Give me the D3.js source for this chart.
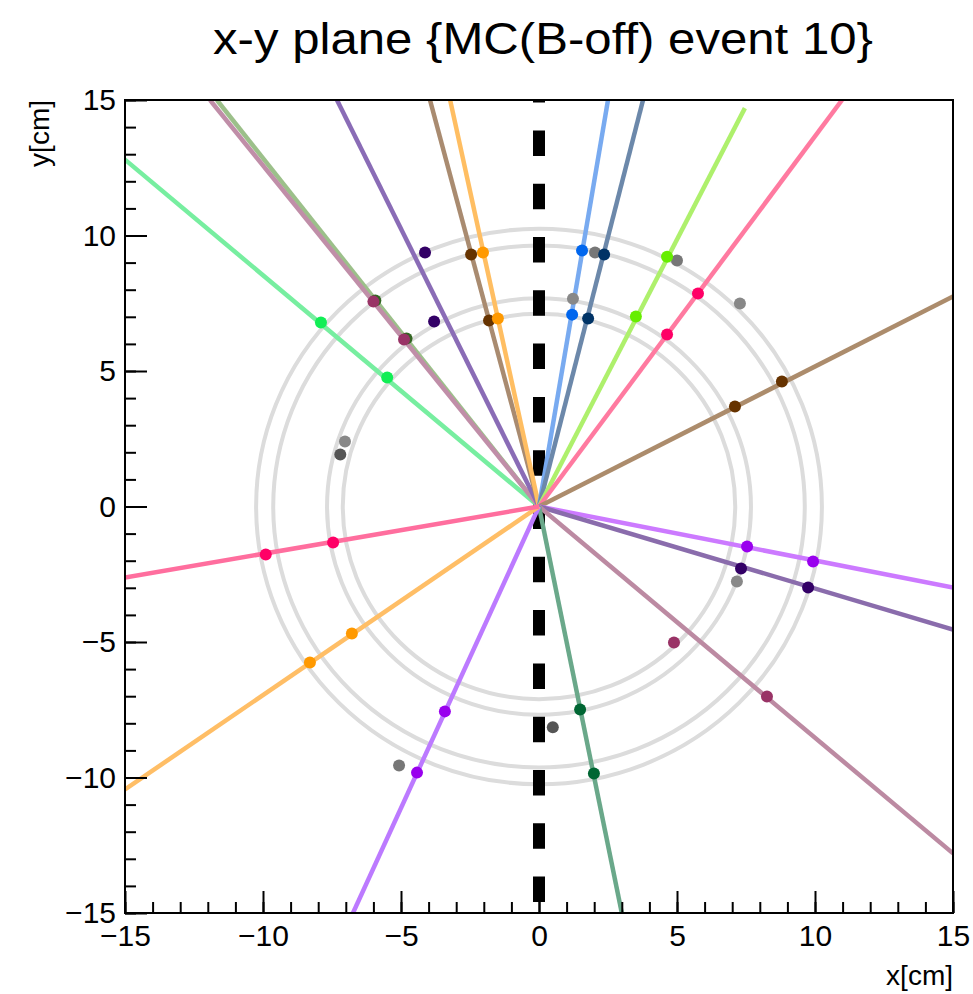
<!DOCTYPE html>
<html>
<head>
<meta charset="utf-8">
<script src="https://cdn.jsdelivr.net/npm/d3@7"></script>
<style>
body { margin: 0; background: #fff; }
text { font-family: "Liberation Sans", Arial, Helvetica, sans-serif; fill: #000; }
</style>
</head>
<body>
<div id="app"></div>
<script>
// tracks: end point where each one leaves the view (all start at the vertex), and its two hits
var trackNames = ["A", "B", "C", "D", "E", "F", "G", "H", "I", "J", "K", "L", "M", "N", "O", "P", "Q", "R"];
var trackEnds = [
    [-15, 12.8], [-11.67, 15], [-11.92, 15], [-7.32, 15], [-3.95, 15], [-3.22, 15],
    [2.5, 15], [3.77, 15], [7.46, 14.7], [10.98, 15], [15, 7.75], [15, -2.99],
    [15, -4.54], [15, -12.8], [3.0, -15], [-6.74, -15], [-15, -10.44], [-15, -2.62]
];
var trackHits = [
    [[-7.9, 6.79], [-5.5, 4.76]],
    [[-5.93, 7.6], [-4.8, 6.2]],
    [[-6.0, 7.56], [-4.89, 6.16]],
    [[-4.13, 9.37], [-3.8, 6.83]],
    [[-2.46, 9.3], [-1.81, 6.86]],
    [[-2.03, 9.37], [-1.49, 6.94]],
    [[1.56, 9.45], [1.2, 7.08]],
    [[2.36, 9.3], [1.78, 6.94]],
    [[4.64, 9.22], [3.51, 7.01]],
    [[5.76, 7.86], [4.64, 6.35]],
    [[8.8, 4.61], [7.1, 3.69]],
    [[7.54, -1.48], [9.93, -2.03]],
    [[7.32, -2.29], [9.75, -2.99]],
    [[4.89, -5.02], [8.26, -7.01]],
    [[1.49, -7.49], [1.99, -9.85]],
    [[-3.41, -7.56], [-4.42, -9.82]],
    [[-6.78, -4.69], [-8.3, -5.76]],
    [[-7.46, -1.33], [-9.9, -1.77]]
];
// hits not attached to any track
var strayHits = [
    [2.03, 9.37], [1.23, 7.67], [5.0, 9.08], [7.28, 7.49], [7.17, -2.77],
    [0.5, -8.15], [-5.07, -9.56], [-7.03, 2.4], [-7.2, 1.92]
];
var ringRadii = [7.11, 7.68, 9.63, 10.25];
var majorTicks = [-15, -10, -5, 0, 5, 10, 15];
var minorTicks = d3.range(-15, 16, 1);

var lineColors = ["#77eea0", "#9cc08a", "#c08ea8", "#8a6cb6", "#a98b70", "#ffbe62",
    "#78aaf0", "#6c88aa", "#aef06c", "#ff7aa0", "#ac8c6c", "#cc7aff",
    "#8a6cac", "#bc8aa2", "#6aa88a", "#bc7aff", "#ffbe66", "#ff6e9e"];
var hitColors = ["#11ee55", "#336622", "#993366", "#330066", "#663300", "#ff9900",
    "#0066ee", "#003366", "#66ee00", "#ff0066", "#663300", "#9900ee",
    "#330066", "#993366", "#006633", "#9900ee", "#ff9900", "#ff0066"];
var strayColors = ["#777", "#888", "#777", "#888", "#888", "#555", "#777", "#888", "#555"];

var width = 973,
    height = 994;
var frame = {left: 125, right: 953, top: 100, bottom: 913};

var svg = d3.select("#app").append("svg")
    .attr("width", width)
    .attr("height", height);

var x = d3.scaleLinear().domain([-15, 15]).range([frame.left, frame.right]);
var y = d3.scaleLinear().domain([-15, 15]).range([frame.bottom, frame.top]);

svg.append("clipPath").attr("id", "clip")
  .append("rect")
    .attr("x", frame.left)
    .attr("y", frame.top)
    .attr("width", frame.right - frame.left)
    .attr("height", frame.bottom - frame.top);

var plot = svg.append("g").attr("clip-path", "url(#clip)");

// detector layers
plot.selectAll(".ring")
    .data(ringRadii)
    .enter().append("ellipse")
    .attr("class", "ring")
    .attr("cx", x(0))
    .attr("cy", y(0))
    .attr("rx", function(d) { return x(d) - x(0); })
    .attr("ry", function(d) { return y(0) - y(d); })
    .style("fill", "none")
    .style("stroke", "#dcdcdc")
    .style("stroke-width", 4);

// beam axis, dashed
var period = 53.3;
var dashStart = y(0) - 3;
var dashOffset = (((y(15) - dashStart) % period) + period) % period;
plot.append("line")
    .attr("x1", x(0)).attr("y1", y(15))
    .attr("x2", x(0)).attr("y2", y(-15))
    .style("stroke", "#000")
    .style("stroke-width", 12)
    .style("stroke-dasharray", "25.5," + (period - 25.5))
    .style("stroke-dashoffset", dashOffset);

var line = d3.line()
    .x(function(d) { return x(d[0]); })
    .y(function(d) { return y(d[1]); });

plot.selectAll(".track")
    .data(trackNames)
    .enter().append("path")
    .attr("class", "track")
    .attr("d", function(d, i) { return line([[0, 0], trackEnds[i]]); })
    .style("fill", "none")
    .style("stroke", function(d, i) { return lineColors[i]; })
    .style("stroke-width", 4.5);

plot.selectAll(".stray")
    .data(strayHits)
    .enter().append("circle")
    .attr("class", "stray")
    .attr("cx", function(d) { return x(d[0]); })
    .attr("cy", function(d) { return y(d[1]); })
    .attr("r", 6)
    .style("fill", function(d, i) { return strayColors[i]; });

trackNames.forEach(function(name, i) {
    plot.selectAll(".hit-" + name)
        .data(trackHits[i])
        .enter().append("circle")
        .attr("class", "hit-" + name)
        .attr("cx", function(d) { return x(d[0]); })
        .attr("cy", function(d) { return y(d[1]); })
        .attr("r", 6)
        .style("fill", hitColors[i]);
});

// axes, ticks inside the frame as ROOT does
function styleAxis(g) {
    g.select(".domain").remove();
    g.selectAll(".tick line").style("stroke", "#000").style("stroke-width", 2);
    g.selectAll(".tick text").style("font-size", "30px");
}

svg.append("g")
    .attr("transform", "translate(0," + frame.bottom + ")")
    .call(d3.axisBottom(x).tickValues(minorTicks).tickSize(-11).tickFormat(""))
    .call(styleAxis);
svg.append("g")
    .attr("transform", "translate(0," + frame.bottom + ")")
    .call(d3.axisBottom(x).tickValues(majorTicks).tickSize(-22).tickPadding(12))
    .call(styleAxis);

svg.append("g")
    .attr("transform", "translate(" + frame.left + ",0)")
    .call(d3.axisLeft(y).tickValues(minorTicks).tickSize(-11).tickFormat(""))
    .call(styleAxis);
svg.append("g")
    .attr("transform", "translate(" + frame.left + ",0)")
    .call(d3.axisLeft(y).tickValues(majorTicks).tickSize(-22).tickPadding(9))
    .call(styleAxis);

svg.append("rect")
    .attr("x", frame.left)
    .attr("y", frame.top)
    .attr("width", frame.right - frame.left)
    .attr("height", frame.bottom - frame.top)
    .style("fill", "none")
    .style("stroke", "#000")
    .style("stroke-width", 2);

svg.append("text")
    .attr("x", 543)
    .attr("y", 54)
    .attr("text-anchor", "middle")
    .attr("textLength", 660)
    .attr("lengthAdjust", "spacingAndGlyphs")
    .style("font-size", "44px")
    .text("x-y plane {MC(B-off) event 10}");

svg.append("text")
    .attr("transform", "translate(49,100) rotate(-90)")
    .attr("text-anchor", "end")
    .style("font-size", "28px")
    .text("y[cm]");

svg.append("text")
    .attr("x", frame.right)
    .attr("y", 985)
    .attr("text-anchor", "end")
    .style("font-size", "28px")
    .text("x[cm]");
</script>
</body>
</html>
